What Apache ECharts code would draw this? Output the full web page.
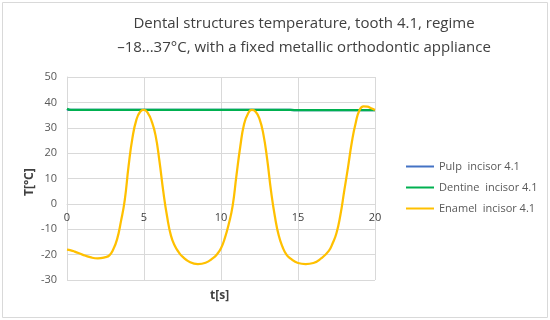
<!DOCTYPE html>
<html>
<head>
<meta charset="utf-8">
<script src="https://cdn.jsdelivr.net/npm/echarts@6/dist/echarts.min.js"></script>
<style>
    html, body { margin: 0; padding: 0; background: #fff; }
    #chart { width: 550px; height: 320px; }
</style>
</head>
<body>
<div id="chart"></div>
<script>
// time axis (s)
var timeS = [0, 0.25, 0.5, 1, 1.5, 2, 2.5, 2.75,
    3, 3.25, 3.5, 3.75, 4, 4.25, 4.5, 4.75, 5, 5.25, 5.5, 5.75,
    6, 6.25, 6.5, 6.75, 7, 7.25, 7.5, 8, 8.5, 9, 9.5, 9.75,
    10, 10.25, 10.5, 10.75, 11, 11.25, 11.5, 11.75, 12, 12.25, 12.5, 12.75,
    13, 13.25, 13.5, 13.75, 14, 14.25, 14.5, 15, 15.5, 16, 16.5,
    17, 17.25, 17.5, 17.75, 18, 18.25, 18.5, 18.75, 19, 19.25, 19.5, 19.75, 20];

// temperatures (°C)
var pulp = [37.2, 37, 37, 37, 37, 37, 37, 37, 37, 37,
    37, 37, 37, 37, 37, 37, 37, 37, 37, 37,
    37, 37, 37, 37, 37, 37, 37, 37, 37, 37,
    37, 37, 37, 37, 37, 37, 37, 37, 37, 37,
    37, 37, 37, 37, 37, 37, 37, 37, 37, 37,
    37, 36.9, 36.9, 36.9, 36.9, 36.9, 36.9, 36.9, 36.9, 36.9,
    36.9, 36.9, 36.9, 36.9, 36.9, 36.9, 36.9, 36.9];
var dentine = [37.5, 37, 37, 37, 37, 37, 37, 37, 37, 37,
    37, 37, 37, 37, 37, 37, 37, 37, 37, 37,
    37, 37, 37, 37, 37, 37, 37, 37, 37, 37,
    37, 37, 37, 37, 37, 37, 37, 37, 37, 37,
    37, 37, 37, 37, 37, 37, 37, 37, 37, 37,
    37, 36.9, 36.9, 36.9, 36.9, 36.9, 36.9, 36.9, 36.9, 36.9,
    36.9, 36.9, 36.9, 36.9, 36.9, 36.9, 36.9, 36.9];
var enamel = [-18, -18.3, -18.8, -20, -21, -21.5, -21, -20.3,
    -18, -14, -7, 1.5, 15, 26, 33, 36.3, 37, 35.8, 32.5, 27,
    17, 5, -5, -12.5, -16.5, -19, -20.8, -23, -23.7, -23.2, -21.3, -19.8,
    -17.5, -13.5, -8, -1, 11, 22.5, 31.5, 35.5, 37, 36.3, 33.5, 27.5,
    17.5, 5, -5, -12.5, -17, -20, -21.5, -23.3, -23.7, -23.3, -21.5,
    -18.5, -15.5, -11.5, -4.5, 5, 14.5, 24.5, 32, 37, 38.4, 38.3, 37.7, 37];

var seriesNames = ['Pulp  incisor 4.1', 'Dentine  incisor 4.1', 'Enamel  incisor 4.1'];
var seriesColors = ['#4472C4', '#00B050', '#FFC000'];

function pairs(values) {
    var list = [];
    for (var i = 0; i < timeS.length; i++) {
        list.push([timeS[i], values[i]]);
    }
    return list;
}

var myChart = echarts.init(document.getElementById('chart'));
var fontName = 'Open Sans';
var textColor = '#595959';

// plot area
var gridTop = 77, gridBottom = 40;
var plotH = 320 - gridTop - gridBottom;
var yMin = -30, yMax = 50;
// lift the x axis up to T = 0, like the original
var xAxisOffset = -plotH * (0 - yMin) / (yMax - yMin);

function lineSeries(idx, values) {
    return {
        name: seriesNames[idx],
        type: 'line',
        smooth: true,
        showSymbol: false,
        lineStyle: { width: 2.25, color: seriesColors[idx] },
        itemStyle: { color: seriesColors[idx] },
        data: pairs(values)
    };
}

var option = {
    animation: false,
    textStyle: { fontFamily: fontName },
    title: {
        text: 'Dental structures temperature, tooth 4.1, regime\n–18...37°C, with a fixed metallic orthodontic appliance',
        left: 299,
        top: 7,
        textAlign: 'center',
        textStyle: { fontSize: 15, fontWeight: 'normal', color: '#404040', lineHeight: 24, fontFamily: fontName }
    },
    legend: {
        orient: 'vertical',
        left: 401,
        top: 156,
        itemWidth: 28,
        itemHeight: 10,
        itemGap: 10,
        icon: 'path://M0,4 L28,4 L28,6 L0,6 Z',
        textStyle: { fontSize: 11, color: textColor, fontFamily: fontName },
        data: seriesNames
    },
    grid: { left: 67, right: 175, top: gridTop, bottom: gridBottom },
    xAxis: {
        type: 'value',
        min: 0,
        max: 20,
        interval: 5,
        offset: xAxisOffset,
        axisLine: { onZero: false, lineStyle: { color: '#D9D9D9', width: 1 } },
        axisTick: { show: false },
        axisLabel: { color: '#404040', fontSize: 11, margin: 8 },
        splitLine: { show: true, lineStyle: { color: '#D9D9D9', width: 1 } }
    },
    yAxis: {
        type: 'value',
        min: yMin,
        max: yMax,
        interval: 10,
        axisLine: { show: true, lineStyle: { color: '#D9D9D9', width: 1 } },
        axisTick: { show: false },
        axisLabel: { color: textColor, fontSize: 11, margin: 10 },
        splitLine: { lineStyle: { color: '#D9D9D9', width: 1 } }
    },
    graphic: [
        {
            type: 'rect',
            shape: { x: 2.5, y: 2.5, width: 545, height: 315 },
            style: { fill: 'none', stroke: '#D9D9D9', lineWidth: 1 },
            silent: true
        },
        {
            type: 'text',
            left: 210,
            top: 290,
            style: { text: 't[s]', font: 'bold 12px "Open Sans"', fill: '#404040' }
        },
        {
            type: 'text',
            x: 24,
            y: 196,
            rotation: Math.PI / 2,
            style: { text: 'T[°C]', font: 'bold 12px "Open Sans"', fill: '#404040' }
        }
    ],
    series: [
        lineSeries(0, pulp),
        lineSeries(1, dentine),
        lineSeries(2, enamel)
    ]
};

myChart.setOption(option);
</script>
</body>
</html>
